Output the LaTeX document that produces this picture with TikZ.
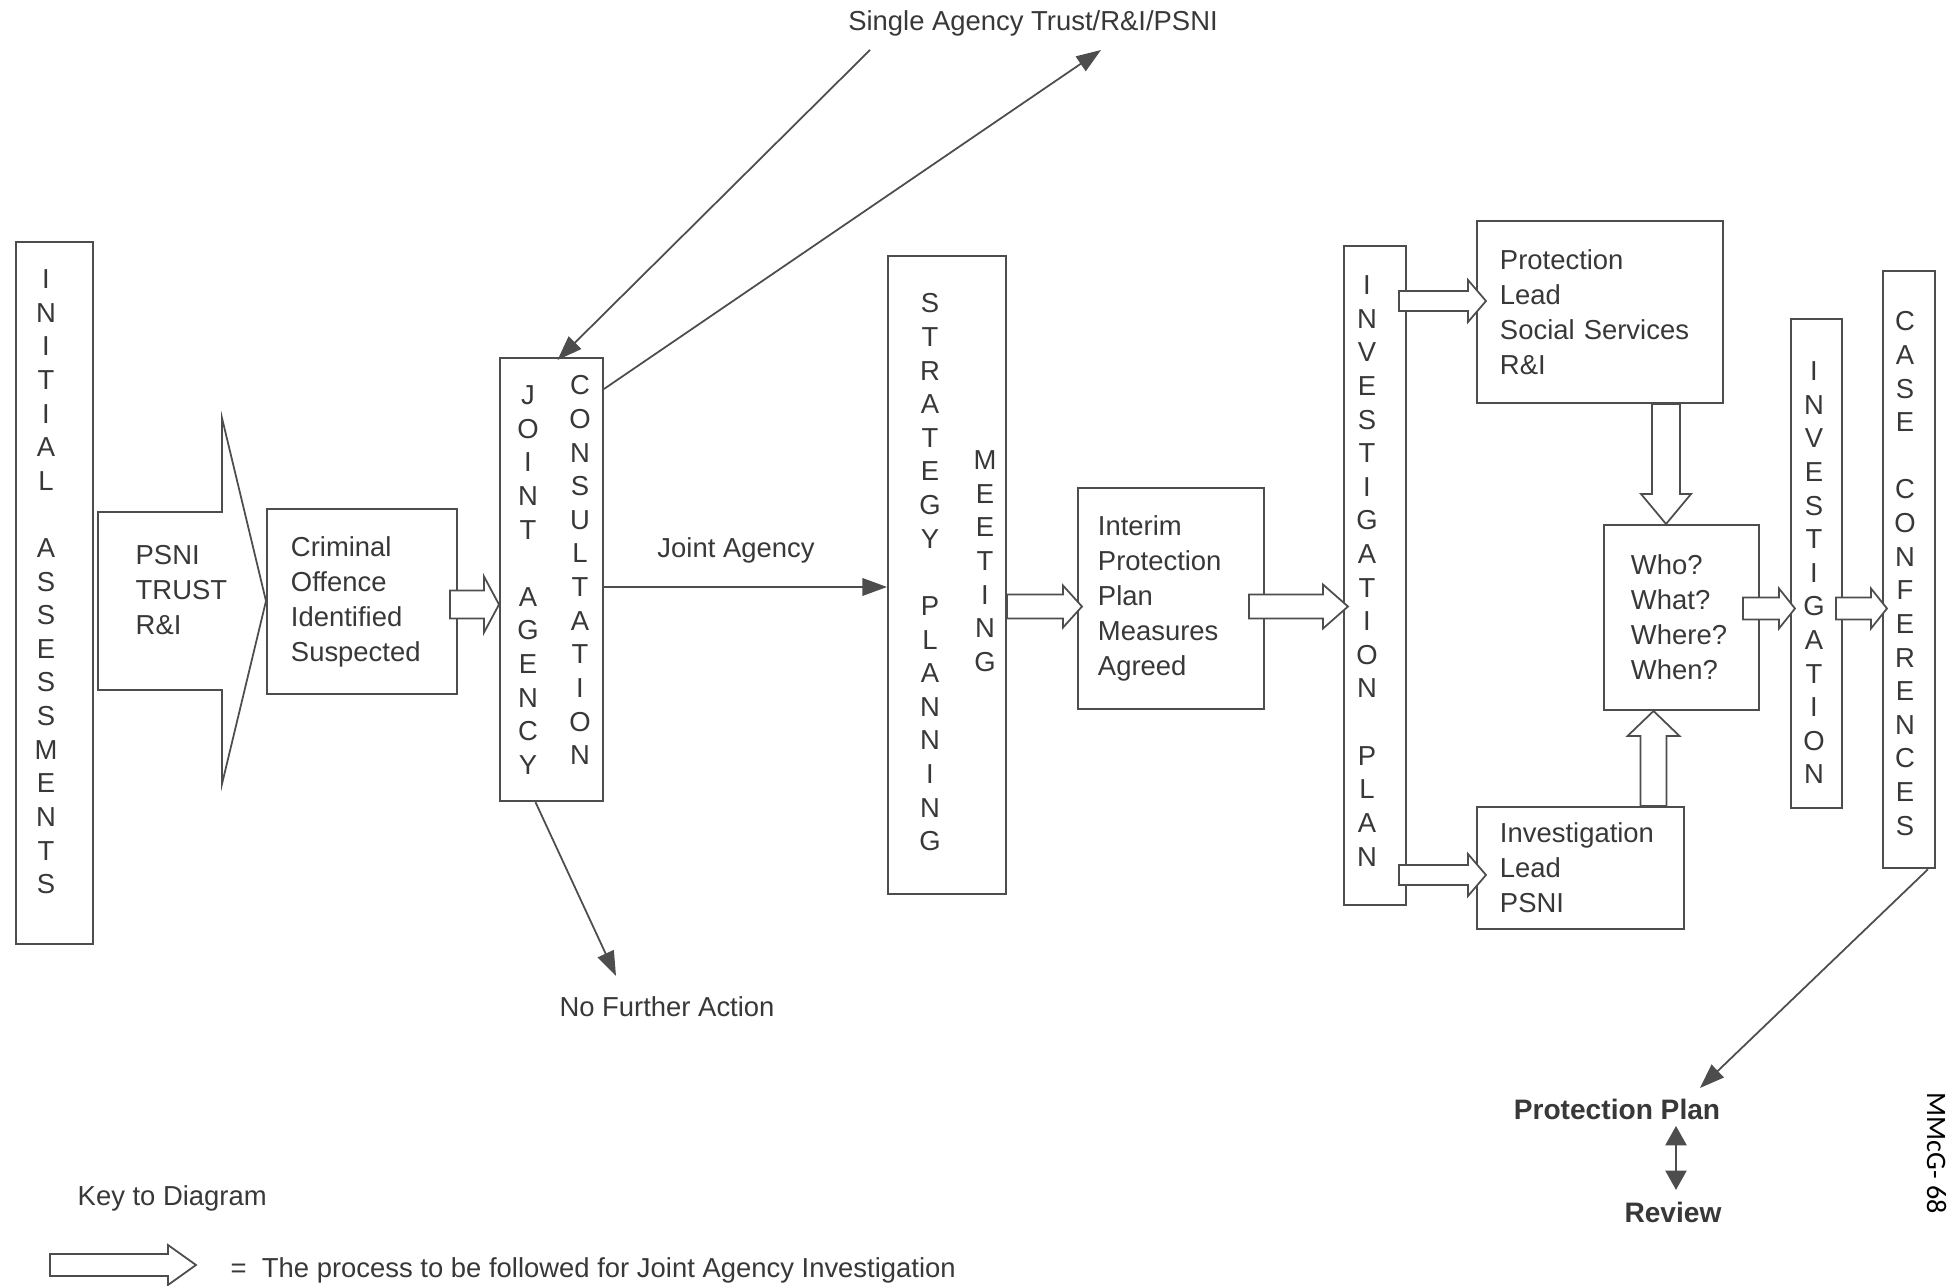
\documentclass[tikz,border=0pt]{standalone}
\usepackage{fontspec}
\setmainfont{Liberation Sans}
\newfontfamily\stampfont{Carlito}
\usetikzlibrary{calc,arrows.meta}
\definecolor{ink}{HTML}{383838}
\definecolor{edge}{HTML}{4D4D4D}
\newcommand\bodyfont{\fontsize{7.8pt}{9.96pt}\selectfont}
\newcommand\colfont{\fontsize{7.8pt}{9.56pt}\selectfont}
\newcommand\boldfont{\fontsize{8pt}{10pt}\selectfont\bfseries}
% hollow block arrows: #1 tail, #2 tip, #3 shaft half-width, #4 head half-width, #5 head length (px)
\newcommand\rblock[5]{\draw[blockarr] ($(#1)+(0,-#3)$) -- ($(#2)+(-#5,-#3)$) -- ($(#2)+(-#5,-#4)$) -- (#2) -- ($(#2)+(-#5,#4)$) -- ($(#2)+(-#5,#3)$) -- ($(#1)+(0,#3)$) -- cycle;}
\newcommand\dblock[5]{\draw[blockarr] ($(#1)+(-#3,0)$) -- ($(#2)+(-#3,-#5)$) -- ($(#2)+(-#4,-#5)$) -- (#2) -- ($(#2)+(#4,-#5)$) -- ($(#2)+(#3,-#5)$) -- ($(#1)+(#3,0)$) -- cycle;}
\newcommand\ublock[5]{\draw[blockarr] ($(#1)+(-#3,0)$) -- ($(#2)+(-#3,#5)$) -- ($(#2)+(-#4,#5)$) -- (#2) -- ($(#2)+(#4,#5)$) -- ($(#2)+(#3,#5)$) -- ($(#1)+(#3,0)$) -- cycle;}
\begin{document}
\begin{tikzpicture}[x=0.01cm,y=-0.01cm,
  box/.style={draw=edge,line width=0.55pt,inner sep=0pt,anchor=north west,text=ink,font=\bodyfont},
  tbox/.style={box,align=left},
  col/.style={anchor=north,inner sep=0pt,align=center,font=\colfont,text=ink},
  lbl/.style={inner sep=0pt,text=ink,font=\bodyfont},
  blockarr/.style={draw=edge,line width=0.5pt,fill=white,line join=miter},
  thinarr/.style={draw=edge,line width=0.5pt,-{Triangle[length=7pt,width=5pt]}},
  botharr/.style={draw=edge,line width=0.6pt,{Triangle[length=5.5pt,width=6pt]}-{Triangle[length=5.5pt,width=6pt]}}]

\fill[white] (0,0) rectangle (1950,1286);
\useasboundingbox (0,0) rectangle (1950,1286);

% ---- boxes ----
\node[box,minimum width=0.77cm,minimum height=7.02cm] (init) at (15,241) {};
\node[tbox,minimum width=1.90cm,minimum height=1.85cm,text width=1.42cm,inner xsep=0.24cm] (crim) at (266,508) {Criminal\\Offence\\Identified\\Suspected};
\node[box,minimum width=1.03cm,minimum height=4.43cm] (joint) at (499,357) {};
\node[box,minimum width=1.18cm,minimum height=6.38cm] (strat) at (887,255) {};
\node[tbox,minimum width=1.86cm,minimum height=2.21cm,text width=1.46cm,inner xsep=0.20cm] (interim) at (1077,487) {Interim\\Protection\\Plan\\Measures\\Agreed};
\node[box,minimum width=0.62cm,minimum height=6.59cm] (ip) at (1343,245) {};
\node[tbox,minimum width=2.46cm,minimum height=1.82cm,text width=2.00cm,inner xsep=0.23cm] (prot) at (1476,220) {Protection\\Lead\\Social Services\\R\&I};
\node[tbox,minimum width=2.07cm,minimum height=1.22cm,text width=1.61cm,inner xsep=0.23cm] (invlead) at (1476,806) {Investigation\\Lead\\PSNI};
\node[tbox,minimum width=1.55cm,minimum height=1.85cm,text width=1.01cm,inner xsep=0.27cm] (who) at (1603,524) {Who?\\What?\\Where?\\When?};
\node[box,minimum width=0.51cm,minimum height=4.89cm] (inv) at (1790,318) {};
\node[box,minimum width=0.52cm,minimum height=5.97cm] (case) at (1882,270) {};

% ---- stacked capitals ----
\node[col] (initT) at (46,269) {I\\N\\I\\T\\I\\A\\L\\{}\\A\\S\\S\\E\\S\\S\\M\\E\\N\\T\\S};
\node[col] (jointA) at (528,385) {J\\O\\I\\N\\T\\{}\\A\\G\\E\\N\\C\\Y};
\node[col] (jointB) at (580,375) {C\\O\\N\\S\\U\\L\\T\\A\\T\\I\\O\\N};
\node[col] (stratA) at (930,293) {S\\T\\R\\A\\T\\E\\G\\Y\\{}\\P\\L\\A\\N\\N\\I\\N\\G};
\node[col] (stratB) at (985,450) {M\\E\\E\\T\\I\\N\\G};
\node[col] (ipT) at (1367,275) {I\\N\\V\\E\\S\\T\\I\\G\\A\\T\\I\\O\\N\\{}\\P\\L\\A\\N};
\node[col] (invT) at (1814,361) {I\\N\\V\\E\\S\\T\\I\\G\\A\\T\\I\\O\\N};
\node[col] (caseT) at (1905,311) {C\\A\\S\\E\\{}\\C\\O\\N\\F\\E\\R\\E\\N\\C\\E\\S};

% ---- hollow process arrows ----
\coordinate (g0) at ($(init.north east)+(4,360)$);
\coordinate (g1) at (crim.west |- g0);
\rblock{g0}{g1}{89}{183}{44}
\node[lbl,anchor=north west,align=left] (gl) at (135,545) {PSNI\\TRUST\\R\&I};

\coordinate (b1) at ($(crim.east)+(-8,3)$);
\coordinate (b1t) at (joint.west |- b1);
\rblock{b1}{b1t}{14}{28}{15}

\coordinate (b2t) at ($(interim.west)+(5,8)$);
\coordinate (b2) at (strat.east |- b2t);
\rblock{b2}{b2t}{12}{21}{19}

\coordinate (b3) at ($(interim.east)+(-16,8)$);
\coordinate (b3t) at ($(ip.west |- b3)+(5,0)$);
\rblock{b3}{b3t}{12}{22}{25}

\coordinate (b4t) at ($(prot.west)+(10,-11)$);
\coordinate (b4) at ($(ip.east |- b4t)+(-8,0)$);
\rblock{b4}{b4t}{10}{21}{18}

\coordinate (b5t) at ($(invlead.west)+(10,7)$);
\coordinate (b5) at ($(ip.east |- b5t)+(-8,0)$);
\rblock{b5}{b5t}{10}{21}{18}

\coordinate (b6) at ($(prot.south)+(66,0)$);
\coordinate (b6t) at (b6 |- who.north);
\dblock{b6}{b6t}{14}{25}{30}

\coordinate (b7) at ($(invlead.north)+(73,0)$);
\coordinate (b7t) at (b7 |- who.south);
\ublock{b7}{b7t}{13}{26}{25}

\coordinate (b8) at ($(who.east)+(-17,-9)$);
\coordinate (b8t) at ($(inv.west |- b8)+(5,0)$);
\rblock{b8}{b8t}{11}{20}{16}

\coordinate (b9) at ($(inv.east |- b8)+(-7,0)$);
\coordinate (b9t) at ($(case.west |- b8)+(5,0)$);
\rblock{b9}{b9t}{11}{20}{16}

% ---- thin connectors ----
\node[lbl,anchor=base] (sa) at (1033,31) {Single Agency Trust/R\&I/PSNI};
\coordinate (saL) at (870,50);
\coordinate (saR) at (1101,50);
\draw[thinarr] (saL) -- ($(joint.north)+(6,3)$);
\draw[thinarr] ($(joint.north east)+(0,32)$) -- (saR);

\coordinate (ja) at ($(joint.north east)+(0,230)$);
\draw[thinarr] (ja) -- (strat.west |- ja);
\node[lbl,anchor=base] (jal) at (736,558) {Joint Agency};

\node[lbl,anchor=base] (nfa) at (667,1017) {No Further Action};
\coordinate (nfaT) at (616,976);
\draw[thinarr] ($(joint.south)+(-16,0)$) -- (nfaT);

\node[lbl,anchor=base,font=\boldfont] (pp) at (1617,1120) {Protection Plan};
\node[lbl,anchor=base,font=\boldfont] (rev) at (1673,1223) {Review};
\coordinate (ppT) at (1700,1088);
\draw[thinarr] ($(case.south)+(19,0)$) -- (ppT);
\draw[botharr] ($(rev.north |- pp.south)+(3,5)$) -- ($(rev.north)+(3,-12)$);

% ---- key ----
\node[lbl,anchor=base west] (key) at (77,1206) {Key to Diagram};
\coordinate (k0) at (50,1265);
\coordinate (k1) at (196,1265);
\rblock{k0}{k1}{11}{20}{28}
\node[lbl,anchor=base west] (keytxt) at (230,1278) {=\ \ The process to be followed for Joint Agency Investigation};

% ---- page stamp ----
\node[rotate=-90,anchor=base west,inner sep=0pt,font=\stampfont\fontsize{8pt}{9pt}\selectfont,text=black] (stamp) at (1927,1092) {MMcG- 68};
\end{tikzpicture}
\end{document}
